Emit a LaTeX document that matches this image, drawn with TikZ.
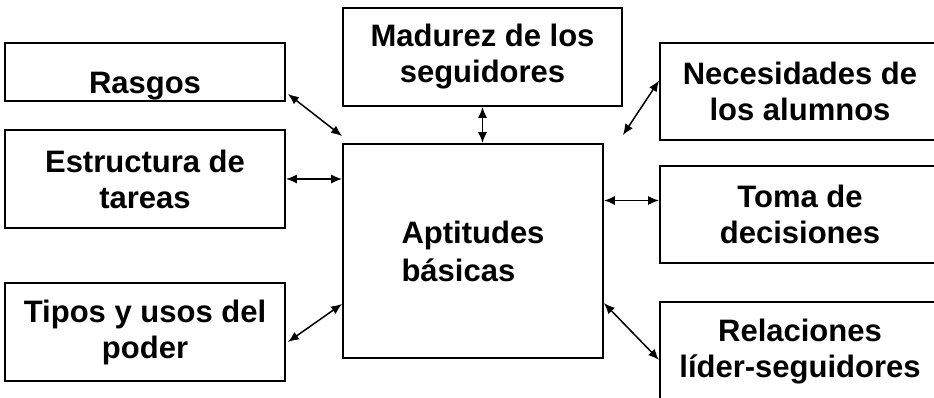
\documentclass[tikz,border=0pt]{standalone}
\usepackage{fontspec}
\setmainfont{Liberation Sans}
\usetikzlibrary{arrows.meta,calc}

\begin{document}
\begin{tikzpicture}[>={Latex[length=11pt,width=9pt]},x=1pt,y=-1pt,
	caja/.style={draw,line width=1.8pt,inner sep=0pt,align=center,
		font=\fontsize{31}{36}\selectfont\bfseries},
	flecha/.style={<->,line width=1.5pt}]
	\useasboundingbox (0,0) rectangle (934,397);
	\clip (0,0) rectangle (934,397);
	% cajas izquierda
	\node[caja,minimum width=280pt,minimum height=58pt,text height=50pt,text depth=8pt] (rasgos) at (145,72) {Rasgos};
	\node[caja,minimum width=280pt,minimum height=98pt] (estructura) at (145,179) {Estructura de\\tareas};
	\node[caja,minimum width=280pt,minimum height=98pt] (tipos) at (145,332) {Tipos y usos del\\poder};
	% cajas centro
	\node[caja,minimum width=279pt,minimum height=98pt] (madurez) at (482.5,57) {Madurez de los\\seguidores};
	\node[caja,align=left,minimum width=260pt,minimum height=214pt,font=\fontsize{31}{38}\selectfont\bfseries] (aptitudes) at (473,251) {Aptitudes\\básicas};
	% cajas derecha (cortadas por el borde)
	\node[caja,minimum width=280pt,minimum height=97pt] (necesidades) at (800,91.5) {Necesidades de\\los alumnos};
	\node[caja,minimum width=280pt,minimum height=97pt] (toma) at (800,214.5) {Toma de\\decisiones};
	\node[caja,minimum width=280pt,minimum height=100pt] (relaciones) at (800,352) {Relaciones\\líder-seguidores};
	% flechas
	\draw[flecha] ($(rasgos.south east)+(2,-8)$) -- ($(aptitudes.north west)+(0,-7)$);
	\draw[flecha] (estructura.east) -- (estructura.east -| aptitudes.west);
	\draw[flecha] ($(tipos.east)+(2,10)$) -- ($(aptitudes.south west)+(0,-55)$);
	\draw[flecha] (madurez.south) -- (madurez.south |- aptitudes.north);
	\coordinate (libre) at ($(aptitudes.north east)+(19,-8)$);
	\draw[flecha] ($(necesidades.west)+(0,-11)$) -- (libre);
	\draw[flecha] ($(toma.west)+(0,-14)$) coordinate (t1) -- (t1 -| aptitudes.east);
	\draw[flecha] ($(aptitudes.east)+(0,52)$) -- ($(relaciones.west)+(0,8)$);
\end{tikzpicture}
\end{document}
